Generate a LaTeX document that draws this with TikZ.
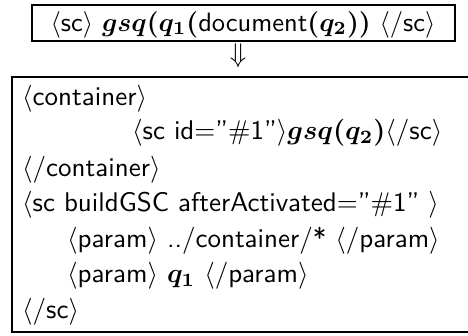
\documentclass[tikz,border=0pt]{standalone}
\usepackage{amsmath}
\usepackage{graphicx}
\renewcommand{\familydefault}{\sfdefault}
\newcommand{\szh}[1]{\scalebox{2.65}{\fontsize{10}{12}\selectfont #1}}
\newcommand{\szb}[1]{\scalebox{2.7}{\fontsize{10}{12}\selectfont #1}}
\tikzset{
  frame/.style={draw=black, line width=2pt},
  codeline/.style={anchor=base west, inner sep=0pt},
  headline/.style={anchor=base, inner sep=0pt},
}
\newcommand{\lt}{$\langle$}
\newcommand{\rt}{$\rangle$}
\newcommand{\bmath}[1]{{\boldmath$#1$}}
\begin{document}
\begin{tikzpicture}[x=1pt,y=-1pt]
\useasboundingbox (0,0) rectangle (468,335);
% top box
\draw[frame] (32,5) rectangle (455,41);
\node[headline] (head) at (243,31) {\szh{\lt sc\rt\ \bmath{gsq(q_1(}document\bmath{(q_2))}\ \lt/sc\rt}};
% arrow
\node[inner sep=0pt] (arr) at (238,56) {\szb{$\Downarrow$}};
% bottom box
\draw[frame] (12,77) rectangle (480,332);
\node[codeline] (l1) at (22,105) {\szb{\lt container\rt}};
\node[codeline] (l2) at (132,139) {\szb{\lt sc id=''\#1''\rt\bmath{gsq(q_2)}\lt/sc\rt}};
\node[codeline] (l3) at (22,176) {\szb{\lt/container\rt}};
\node[codeline] (l4) at (22,211) {\szb{\lt sc buildGSC afterActivated=''\#1'' \rt}};
\node[codeline] (l5) at (67,247) {\szb{\lt param\rt\ ../container/* \lt/param\rt}};
\node[codeline] (l6) at (67,282) {\szb{\lt param\rt\ \bmath{q_1} \lt/param\rt}};
\node[codeline] (l7) at (22,318) {\szb{\lt/sc\rt}};
\end{tikzpicture}
\end{document}
